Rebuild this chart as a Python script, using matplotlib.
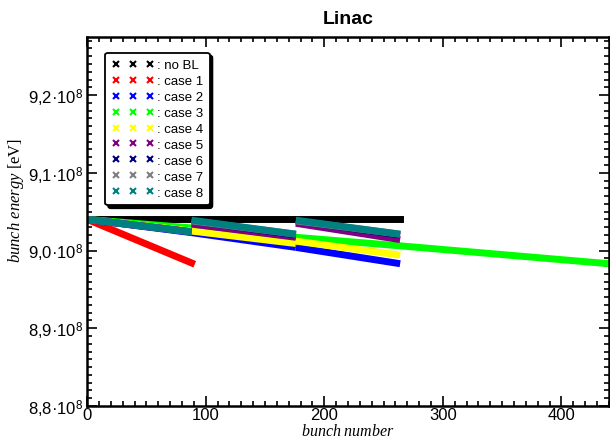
import matplotlib
matplotlib.use("Agg")
import matplotlib.pyplot as plt
from matplotlib.lines import Line2D
from matplotlib.ticker import MultipleLocator, FuncFormatter

plt.rcParams['font.family'] = ['Liberation Sans', 'DejaVu Sans']
plt.rcParams['mathtext.fontset'] = 'custom'
plt.rcParams['mathtext.rm'] = 'Liberation Sans'
plt.rcParams['mathtext.it'] = 'Liberation Serif:italic'

# bunch numbers at the segment borders
seg_x = [0, 88, 176, 264]

# energies (in 1e8 eV) at the start / end of each segment
no_bl_x = [0, 264]
no_bl_y = [9.040, 9.040]

case1_x = [0, 88]
case1_y = [9.040, 8.984]

case2_start = [9.040, 9.023, 9.004]
case2_end = [9.023, 9.004, 8.983]

case3_x = [0, 88, 176, 264, 440]
case3_y = [9.040, 9.029, 9.017, 9.006, 8.983]

case4_start = [9.040, 9.025, 9.012]
case4_end = [9.025, 9.009, 8.994]

case5_start = [9.040, 9.034, 9.035]
case5_end = [9.024, 9.017, 9.014]

case6_start = [9.040, 9.038, 9.038]
case6_end = [9.024, 9.020, 9.020]

case7_start = [9.040, 9.038, 9.038]
case7_end = [9.024, 9.021, 9.021]

case8_start = [9.040, 9.039, 9.039]
case8_end = [9.024, 9.021, 9.021]

labels = ['no BL', 'case 1', 'case 2', 'case 3', 'case 4',
          'case 5', 'case 6', 'case 7', 'case 8']
colors = ['black', '#ff0000', '#0000ff', '#00ff00', '#ffff00',
          '#800080', '#000080', '#808080', '#008080']

fig = plt.figure(figsize=(6.1, 4.39), dpi=100)
ax = fig.add_axes([0.143, 0.073, 0.855, 0.841])

lw = 5
ax.plot(no_bl_x, [v * 1e8 for v in no_bl_y], color=colors[0], lw=lw)
ax.plot(case1_x, [v * 1e8 for v in case1_y], color=colors[1], lw=lw)


def segs(st, en, c):
    for i in range(3):
        ax.plot([seg_x[i], seg_x[i + 1]], [st[i] * 1e8, en[i] * 1e8],
                color=c, lw=lw, solid_capstyle='butt')


segs(case2_start, case2_end, colors[2])
ax.plot(case3_x, [v * 1e8 for v in case3_y], color=colors[3], lw=lw)
segs(case4_start, case4_end, colors[4])
segs(case5_start, case5_end, colors[5])
segs(case6_start, case6_end, colors[6])
segs(case7_start, case7_end, colors[7])
segs(case8_start, case8_end, colors[8])

ax.set_xlim(0, 440)
ax.set_ylim(8.8e8, 9.275e8)
ax.xaxis.set_major_locator(MultipleLocator(100))
ax.xaxis.set_minor_locator(MultipleLocator(10))
ax.yaxis.set_major_locator(MultipleLocator(0.1e8))
ax.yaxis.set_minor_locator(MultipleLocator(0.01e8))


def yfmt(v, pos):
    s = '%.1f' % (v / 1e8)
    return s.replace('.', ',') + '·10$^8$'


ax.yaxis.set_major_formatter(FuncFormatter(yfmt))
ax.tick_params(which='both', direction='in', top=True, right=True,
               width=1.2, labelsize=12)
ax.tick_params(axis='x', pad=1)
ax.tick_params(axis='y', pad=3)
ax.tick_params(which='major', length=7)
ax.tick_params(which='minor', length=3.5)
for sp in ax.spines.values():
    sp.set_linewidth(1.8)

ax.set_title('Linac', fontsize=14, fontweight='bold', pad=10)
ax.set_xlabel(r'$\mathit{bunch\ number}$', fontsize=11.5, labelpad=0)
ax.set_ylabel(r'$\mathit{bunch\ energy}$ [eV]', fontsize=12,
              family='Liberation Serif', labelpad=2)
ax.yaxis.set_label_coords(-0.118, 0.56)

handles = [Line2D([], [], ls='none', marker='x', color=c, markersize=4.5,
                  mew=1.5) for c in colors]
leg = ax.legend(handles, [': ' + l for l in labels], loc='upper left',
                bbox_to_anchor=(0.022, 0.975), numpoints=3, handlelength=3.2,
                handletextpad=0.2, labelspacing=0.28, fontsize=9.5,
                frameon=True, fancybox=True, framealpha=1,
                edgecolor='black', borderpad=0.5,
                shadow={'color': 'black', 'alpha': 1})
leg.get_frame().set_linewidth(1.3)

fig.savefig('out.png', dpi=100)
